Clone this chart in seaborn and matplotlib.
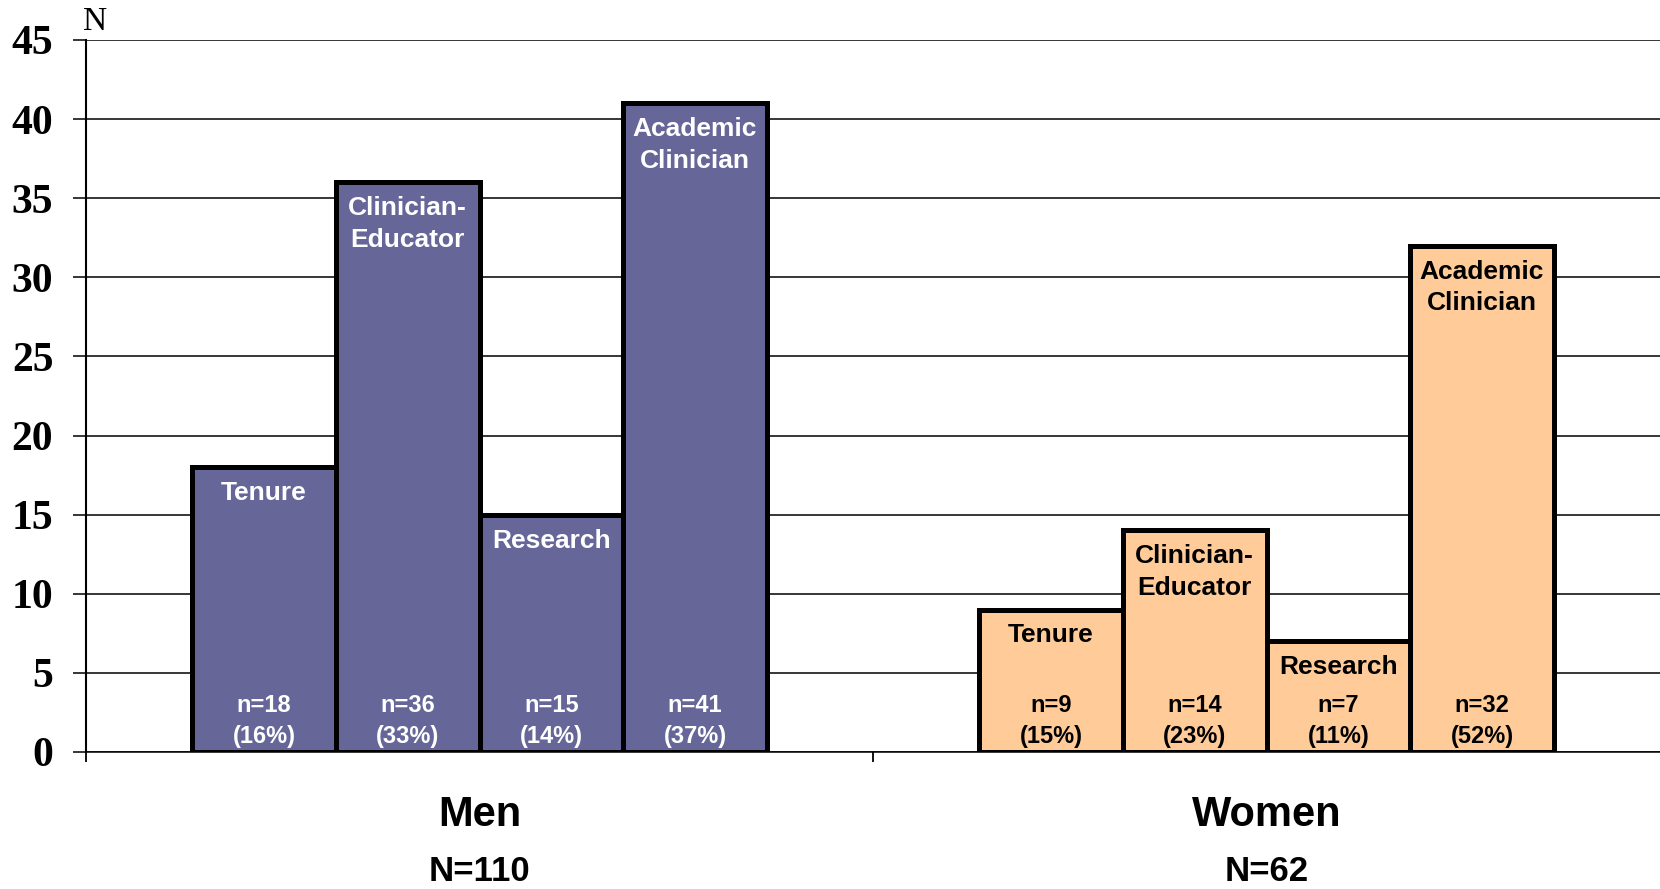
import matplotlib
matplotlib.use("Agg")
import matplotlib.pyplot as plt
import pandas as pd
import seaborn as sns

GROUPS = ["Men", "Women"]
GROUP_TOTALS = ["N=110", "N=62"]
TRACKS = ["Tenure", "Clinician-\nEducator", "Research", "Academic\nClinician"]
MEN_COUNTS = [18, 36, 15, 41]
WOMEN_COUNTS = [9, 14, 7, 32]
MEN_PCT = ["16%", "33%", "14%", "37%"]
WOMEN_PCT = ["15%", "23%", "11%", "52%"]

GROUP_COLORS = ["#666699", "#FFCC99"]
TEXT_COLORS = ["white", "black"]

df = pd.DataFrame({
    "group": [g for g in GROUPS for _ in TRACKS],
    "track": TRACKS * 2,
    "count": MEN_COUNTS + WOMEN_COUNTS,
    "pct": MEN_PCT + WOMEN_PCT,
})

sns.set_style("white")
plt.rcParams["font.family"] = ["Liberation Sans", "DejaVu Sans"]
plt.rcParams.update({"text.color": "black", "xtick.color": "black",
                     "ytick.color": "black", "axes.labelcolor": "black"})

fig = plt.figure(figsize=(16.6, 8.89), dpi=100)
ax = fig.add_axes([86 / 1660, 1 - 752 / 889, 1 - 86 / 1660, (752 - 40) / 889])

sns.barplot(data=df, x="group", y="count", hue="track", hue_order=TRACKS,
            order=GROUPS, palette=["#666699"] * 4, width=0.73, gap=0,
            edgecolor="black", linewidth=3.6, saturation=1, ax=ax,
            legend=False, zorder=3)

# colour per group, label each bar
for k, cont in enumerate(ax.containers):
    for j, bar in enumerate(cont):
        bar.set_facecolor(GROUP_COLORS[j])
        cx = bar.get_x() + bar.get_width() / 2
        h = bar.get_height()
        row = df[(df.group == GROUPS[j]) & (df.track == TRACKS[k])].iloc[0]
        ax.annotate(TRACKS[k], xy=(cx, h), xytext=(0, -10), textcoords="offset points",
                    ha="center", va="top", fontsize=19, fontweight="bold",
                    color=TEXT_COLORS[j], linespacing=1.4, zorder=5)
        ax.annotate(f"n={int(row['count'])}\n({row['pct']})", xy=(cx, 0), xytext=(0, 3),
                    textcoords="offset points", ha="center", va="bottom",
                    fontsize=17, fontweight="bold", color=TEXT_COLORS[j],
                    linespacing=1.45, zorder=5)

ax.set_ylim(0, 45)
ax.set_xlim(-0.5, 1.5)
ax.set_yticks(range(0, 46, 5))
ax.yaxis.grid(True, color="black", linewidth=1.1)
ax.set_axisbelow(True)
ax.tick_params(axis="y", left=True, length=9.5, width=1.1, pad=14, color="black")
for lab in ax.get_yticklabels():
    lab.set_fontfamily("Liberation Serif")
    lab.set_fontweight("bold")
    lab.set_fontsize(30)

ax.set_xticks([0, 1])
ax.set_xticklabels(GROUPS, fontsize=30, fontweight="bold")
ax.set_xticks([-0.5, 0.5], minor=True)
ax.tick_params(axis="x", which="major", bottom=False, length=0, pad=31)
ax.tick_params(axis="x", which="minor", bottom=True, length=7, width=1.3, color="black")

for i, tot in enumerate(GROUP_TOTALS):
    ax.annotate(tot, xy=(i, 0), xycoords=ax.get_xaxis_transform(), xytext=(0, -86),
                textcoords="offset points", ha="center", va="center",
                fontsize=25, fontweight="bold", annotation_clip=False)

ax.set_xlabel("")
ax.set_ylabel("")
for s in ["top", "right"]:
    ax.spines[s].set_visible(False)
ax.spines["left"].set_color("black")
ax.spines["left"].set_linewidth(1.5)
ax.spines["bottom"].set_color("black")
ax.spines["bottom"].set_linewidth(1.1)

fig.text(95 / 1660, 1 - 22 / 889, "N", fontsize=24, fontfamily="Liberation Serif",
         ha="center", va="center")

fig.savefig("out.png", dpi=100)
